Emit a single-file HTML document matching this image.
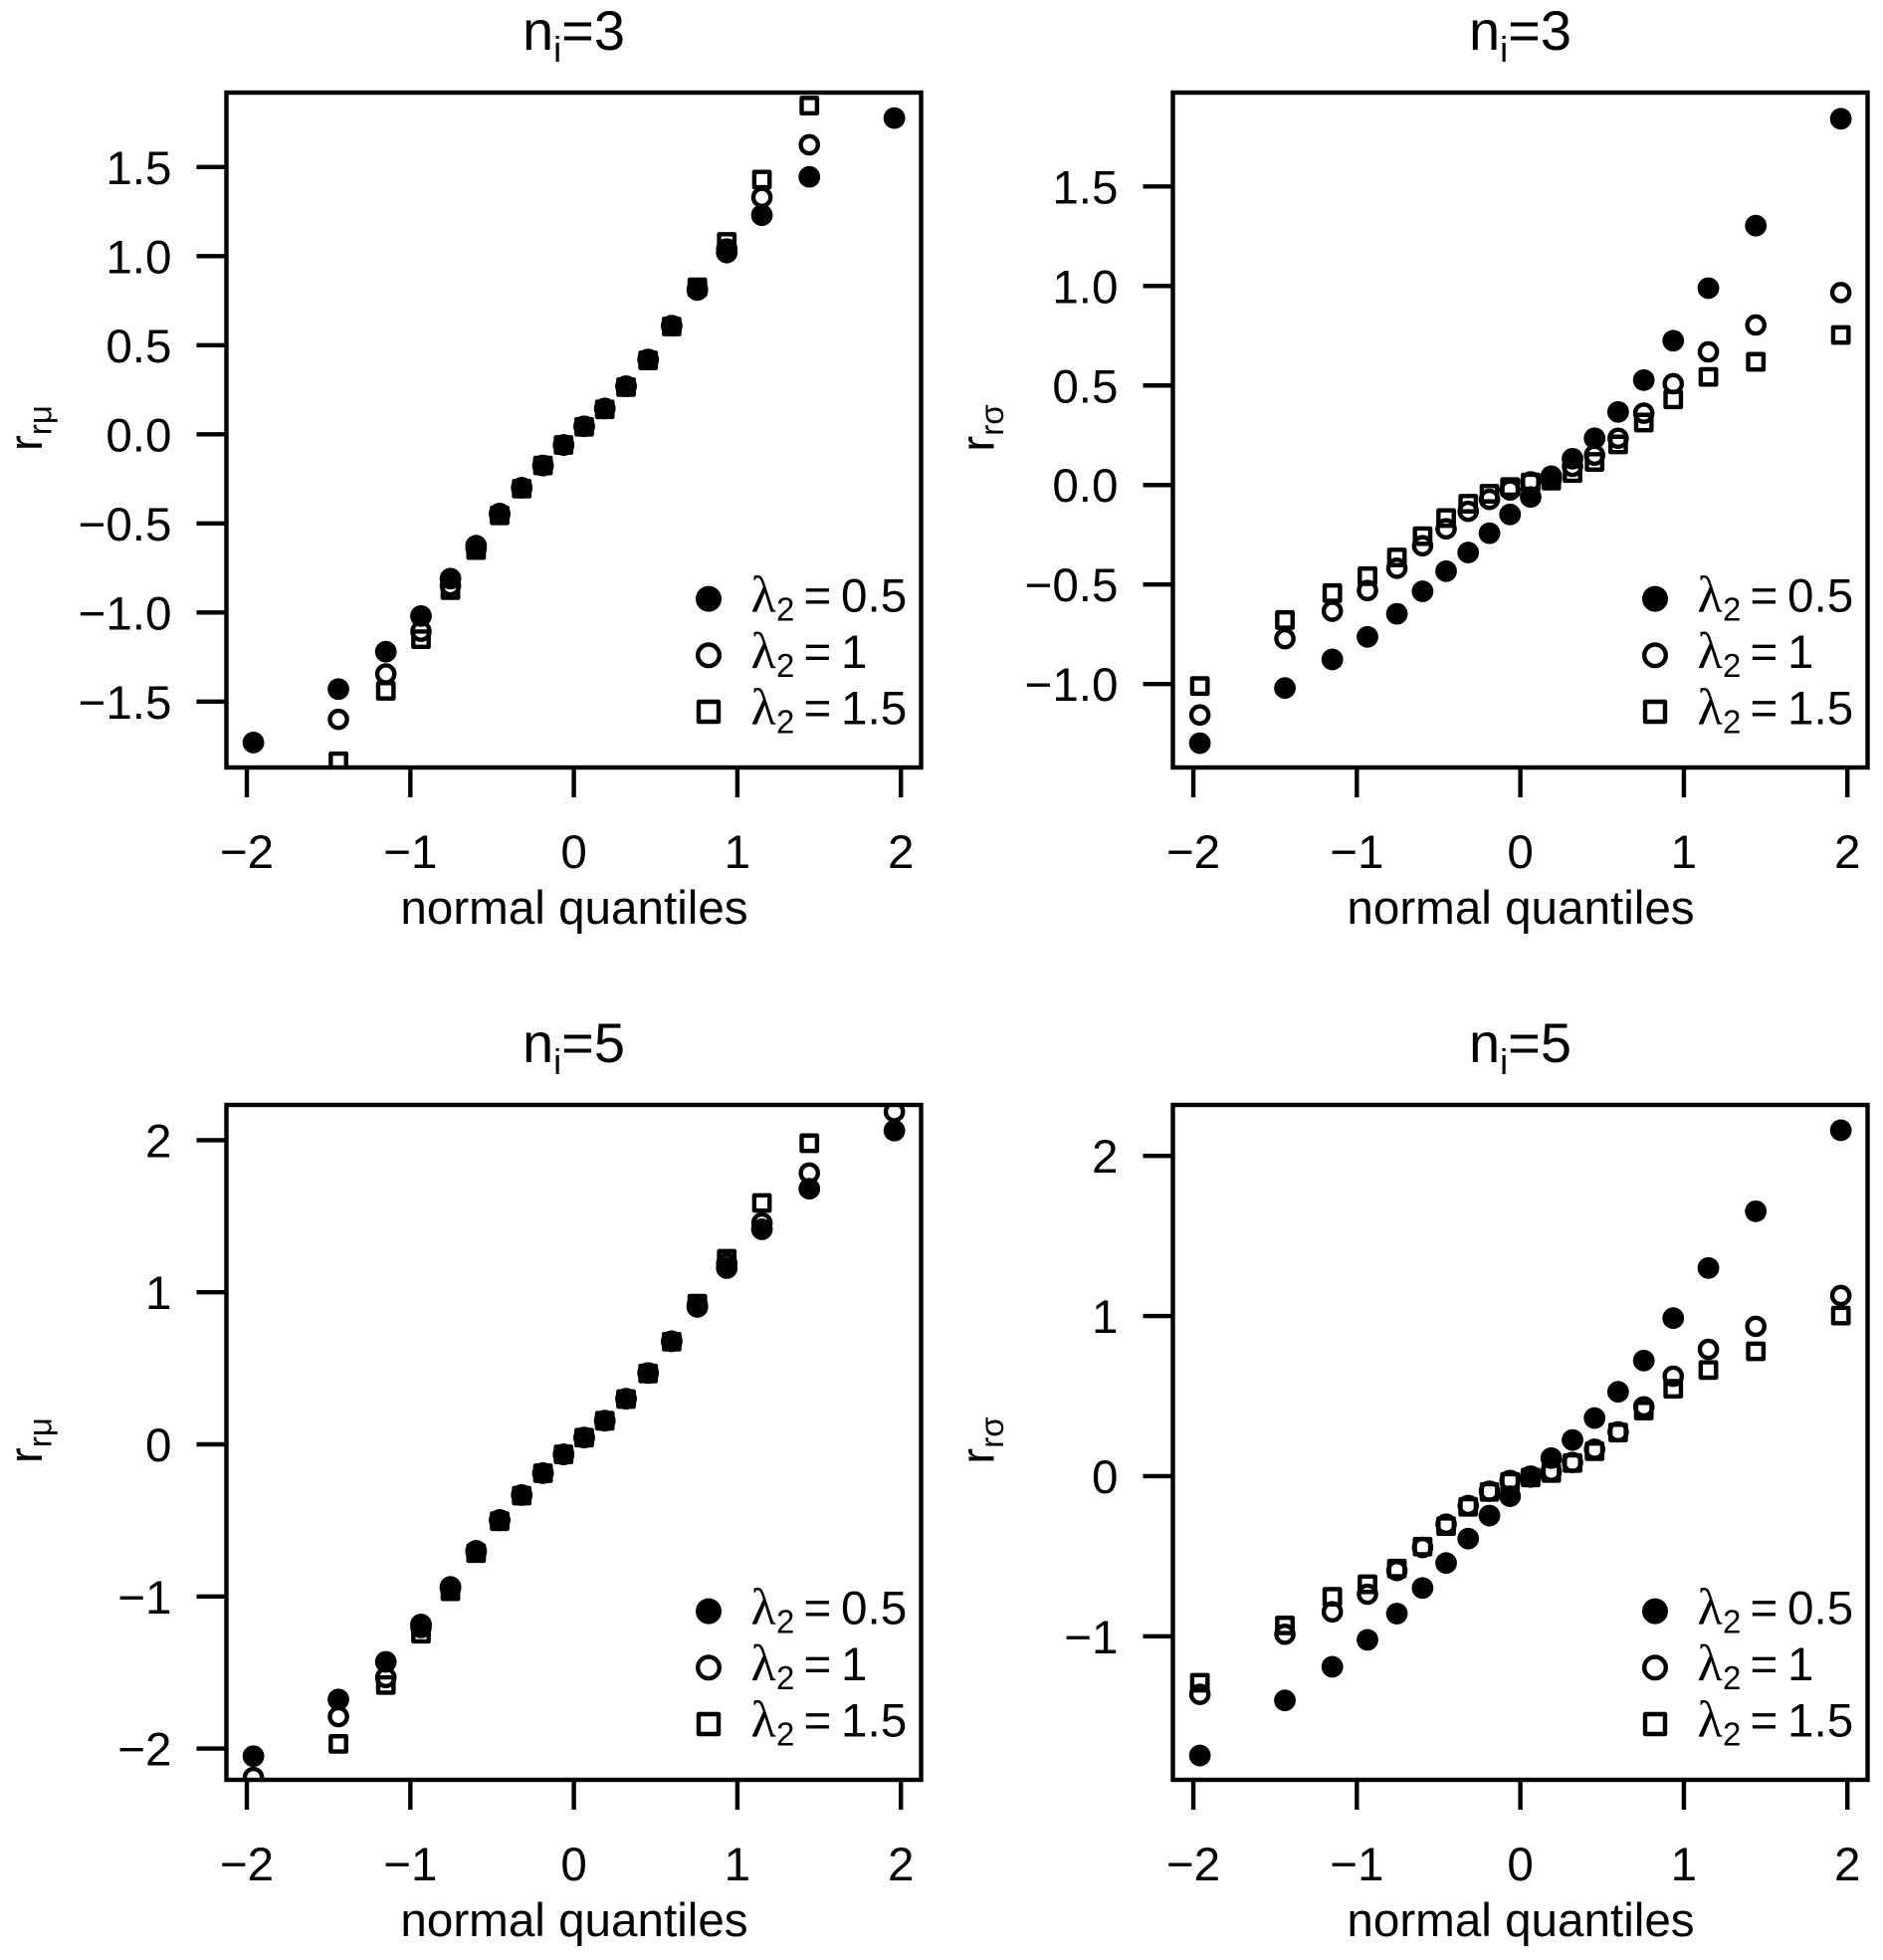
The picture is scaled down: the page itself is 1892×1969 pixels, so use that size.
<!DOCTYPE html>
<html lang="en">
<head>
<meta charset="utf-8">
<title>QQ plots of residuals</title>
<style>
html,body{margin:0;padding:0;background:#fff;}
svg{display:block;}
text{font-family:"Liberation Sans",sans-serif;fill:#000;}
.sym{font-family:"Liberation Serif","DejaVu Serif",serif;}
</style>
</head>
<body>
<svg id="figure" xmlns="http://www.w3.org/2000/svg" width="1892" height="1969" viewBox="0 0 1892 1969">
<rect x="0" y="0" width="1892" height="1969" fill="#fff"/>
</svg>
<script>
// ---- shared data ----
const quantiles = [-1.96,-1.44,-1.15,-0.935,-0.755,-0.598,-0.454,-0.319,-0.189,-0.063,0.063,0.189,0.319,0.454,0.598,0.755,0.935,1.15,1.44,1.96];
const xTicks = [-2,-1,0,1,2];
const xDomain = [-2.125,2.1235];
const legendValues = ['0.5','1','1.5'];

// ---- top-left: n_i=3, r_r-mu ----
const p1Lambda05 = [-1.73,-1.43,-1.22,-1.02,-0.81,-0.625,-0.445,-0.30,-0.175,-0.06,0.045,0.145,0.27,0.42,0.61,0.81,1.02,1.23,1.445,1.775];
const p1Lambda1 = [-2.05,-1.60,-1.345,-1.105,-0.85,-0.64,-0.45,-0.30,-0.175,-0.06,0.045,0.145,0.27,0.42,0.61,0.815,1.04,1.33,1.625,2.05];
const p1Lambda15 = [-2.3,-1.835,-1.44,-1.15,-0.875,-0.65,-0.455,-0.305,-0.175,-0.06,0.042,0.14,0.265,0.415,0.605,0.825,1.08,1.43,1.845,2.3];
const p1Ticks = ['-1.5','-1.0','-0.5','0.0','0.5','1.0','1.5'];
const p1Domain = [-1.870,1.918];

// ---- top-right: n_i=3, r_r-sigma ----
const p2Lambda05 = [-1.297,-1.02,-0.876,-0.763,-0.647,-0.534,-0.433,-0.339,-0.242,-0.148,-0.06,0.044,0.132,0.235,0.367,0.527,0.725,0.989,1.303,1.84];
const p2Lambda1 = [-1.155,-0.772,-0.634,-0.53,-0.418,-0.305,-0.22,-0.132,-0.072,-0.025,0.016,0.03,0.094,0.15,0.235,0.361,0.509,0.669,0.804,0.967];
const p2Lambda15 = [-1.01,-0.678,-0.543,-0.458,-0.364,-0.257,-0.166,-0.094,-0.044,-0.01,0.013,0.022,0.06,0.116,0.204,0.314,0.43,0.543,0.619,0.754];
const p2Ticks = ['-1.0','-0.5','0.0','0.5','1.0','1.5'];
const p2Domain = [-1.419,1.9715];

// ---- bottom-left: n_i=5, r_r-mu ----
const p3Lambda05 = [-2.05,-1.677,-1.43,-1.184,-0.937,-0.70,-0.497,-0.333,-0.189,-0.066,0.045,0.156,0.30,0.469,0.678,0.904,1.159,1.414,1.681,2.063];
const p3Lambda1 = [-2.19,-1.79,-1.533,-1.204,-0.945,-0.707,-0.5,-0.333,-0.189,-0.066,0.045,0.156,0.30,0.469,0.678,0.917,1.19,1.455,1.784,2.187];
const p3Lambda15 = [-2.4,-1.969,-1.582,-1.245,-0.966,-0.715,-0.505,-0.337,-0.19,-0.066,0.044,0.155,0.298,0.466,0.675,0.925,1.22,1.587,1.98,2.4];
const p3Ticks = ['-2','-1','0','1','2'];
const p3Domain = [-2.2055,2.2317];

// ---- bottom-right: n_i=5, r_r-sigma ----
const p4Lambda05 = [-1.744,-1.40,-1.19,-1.022,-0.858,-0.698,-0.542,-0.39,-0.246,-0.125,0,0.113,0.226,0.363,0.527,0.722,0.987,1.30,1.654,2.16];
const p4Lambda1 = [-1.362,-0.987,-0.847,-0.737,-0.589,-0.445,-0.30,-0.183,-0.094,-0.027,-0.005,0.03,0.086,0.168,0.277,0.433,0.624,0.792,0.936,1.128];
const p4Lambda15 = [-1.29,-0.932,-0.753,-0.675,-0.577,-0.44,-0.312,-0.191,-0.098,-0.035,-0.008,0.02,0.082,0.156,0.273,0.41,0.546,0.663,0.78,1.003];
const p4Ticks = ['-1','0','1','2'];
const p4Domain = [-1.896,2.3182];

const NS = 'http://www.w3.org/2000/svg';
const root = document.getElementById('figure');
const FONT = 47.6, LW = 4.4;

function make(tag, parent, attrs) {
  const el = document.createElementNS(NS, tag);
  for (const k in attrs) el.setAttribute(k, attrs[k]);
  parent.appendChild(el);
  return el;
}

function drawMarker(group, kind, cx, cy, big) {
  let el;
  if (kind === 0) {
    el = make('circle', group, {cx: cx, cy: cy, r: big ? 13 : 10.9, fill: '#000'});
  } else if (kind === 1) {
    el = make('circle', group, {cx: cx, cy: cy, r: big ? 10.8 : 8.6, fill: 'none', stroke: '#000', 'stroke-width': 4.4});
  } else {
    const s = big ? 20 : 15.4;
    el = make('rect', group, {x: cx - s / 2, y: cy - s / 2, width: s, height: s, fill: 'none', stroke: '#000', 'stroke-width': 4.4, 'stroke-linejoin': 'round'});
  }
  return el;
}

function drawPanel(id, left, top, subI, greek, series, ticks, yDomain, nValue, yTitleOffset) {
  const W = 698, H = 678;
  const right = left + W, bottom = top + H;
  const x = v => left + (v - xDomain[0]) / (xDomain[1] - xDomain[0]) * W;
  const y = v => bottom - (v - yDomain[0]) / (yDomain[1] - yDomain[0]) * H;

  const g = make('g', root, {});
  
  

  // title
  const title = make('text', g, {x: left + W / 2, y: top - 43, 'text-anchor': 'middle', 'font-size': 56});
  
  
  title.appendChild(document.createTextNode('n'));
  const tsub = make('tspan', title, {dy: 12, 'font-size': 36});
  tsub.textContent = subI;
  const trest = make('tspan', title, {dy: -12});
  trest.textContent = '=' + nValue;

  // clip
  const clip = make('clipPath', g, {id: 'clip-' + id});
  make('rect', clip, {x: left, y: top, width: W, height: H});

  // points
  const ptGroup = make('g', g, {'clip-path': 'url(#clip-' + id + ')'});
  
  
  series.forEach((vals, kind) => {
    vals.forEach((v, i) => {
      const m = drawMarker(ptGroup, kind, x(quantiles[i]), y(v), false);
      
      
    });
  });

  // box
  const box = make('rect', g, {x: left, y: top, width: W, height: H, fill: 'none', stroke: '#000', 'stroke-width': LW});
  
  

  // x axis
  xTicks.forEach(t => {
    const tk = make('line', g, {x1: x(t), x2: x(t), y1: bottom, y2: bottom + 30, stroke: '#000', 'stroke-width': LW});
    
    
    const lb = make('text', g, {x: x(t), y: bottom + 101, 'text-anchor': 'middle', 'font-size': FONT});
    
    
    lb.textContent = String(t).replace('-', '\u2212');
  });
  const xl = make('text', g, {x: left + W / 2 + 0.5, y: bottom + 157, 'text-anchor': 'middle', 'font-size': FONT});
  
  
  xl.textContent = 'normal quantiles';

  // y axis
  ticks.forEach(t => {
    const v = parseFloat(t);
    const tk = make('line', g, {x1: left - 30, x2: left, y1: y(v), y2: y(v), stroke: '#000', 'stroke-width': LW});
    
    
    const lb = make('text', g, {x: left - 55, y: y(v) + 17, 'text-anchor': 'end', 'font-size': FONT});
    
    
    lb.textContent = t.replace('-', '\u2212');
  });
  const yx = left - yTitleOffset, yy = top + H / 2 - 2;
  const yl = make('text', g, {x: 0, y: 0, 'text-anchor': 'middle', 'font-size': FONT, transform: 'translate(' + yx + ' ' + yy + ') rotate(-90)'});
  
  
  yl.appendChild(document.createTextNode('r'));
  const ys = make('tspan', yl, {dy: 9.5, 'font-size': 33});
  ys.textContent = 'r' + greek;

  // legend
  const lg = make('g', g, {});
  
  
  legendValues.forEach((val, i) => {
    const base = bottom - 156.7 + i * 56.7;
    const entry = make('g', lg, {});
    
    
    drawMarker(entry, i, right - 213.5, base - 12.7, true);
    const lam = make('text', entry, {x: right - 171, y: base, 'font-size': 52, 'class': 'sym'});
    lam.textContent = '\u03BB';
    const two = make('text', entry, {x: right - 145.5, y: base + 9, 'font-size': 33});
    two.textContent = '2';
    const eq = make('text', entry, {x: right - 118, y: base, 'font-size': FONT});
    eq.textContent = '=';
    const vt = make('text', entry, {x: right - 80.5, y: base, 'font-size': FONT});
    vt.textContent = val;
  });
}

drawPanel('top-left', 227.5, 93, 'i', '\u03BC', [p1Lambda05, p1Lambda1, p1Lambda15], p1Ticks, p1Domain, 3, 185.5);
drawPanel('top-right', 1178.5, 93, 'i', '\u03C3', [p2Lambda05, p2Lambda1, p2Lambda15], p2Ticks, p2Domain, 3, 180);
drawPanel('bottom-left', 227.5, 1110, 'i', '\u03BC', [p3Lambda05, p3Lambda1, p3Lambda15], p3Ticks, p3Domain, 5, 185.5);
drawPanel('bottom-right', 1178.5, 1110, 'i', '\u03C3', [p4Lambda05, p4Lambda1, p4Lambda15], p4Ticks, p4Domain, 5, 180);
</script>
</body>
</html>
